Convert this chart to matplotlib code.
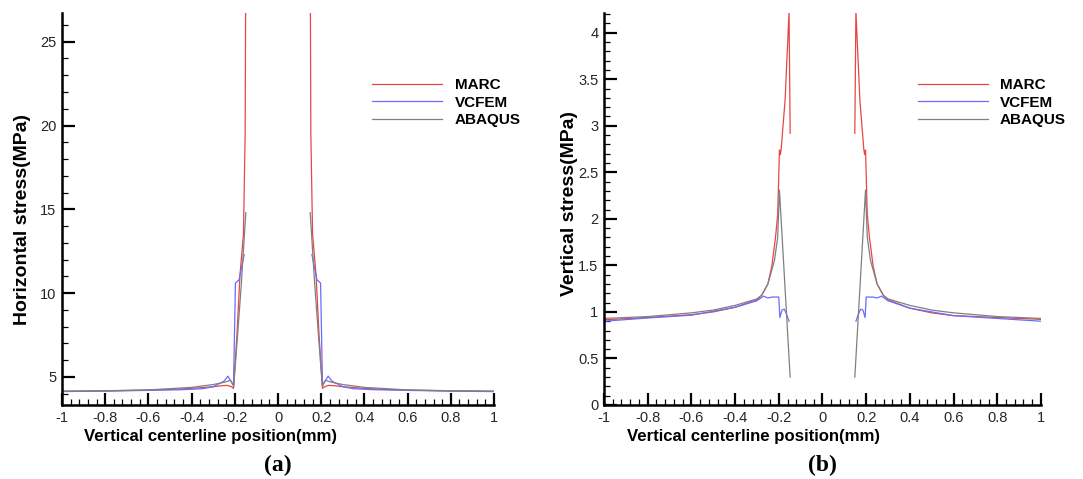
# Esfuerzos a lo largo de la linea central vertical: MARC, VCFEM y ABAQUS

import numpy as np
import matplotlib.pyplot as plt
from matplotlib.ticker import MultipleLocator

plt.rcParams['font.family'] = ['Liberation Sans', 'DejaVu Sans']

# (a) esfuerzo horizontal, mitad izquierda y mitad derecha
h_marc_xl = [-1, -0.8, -0.6, -0.5, -0.4, -0.3, -0.26, -0.235, -0.215, -0.206, -0.19, -0.176, -0.16, -0.152, -0.149]
h_marc_yl = [4.15, 4.17, 4.22, 4.26, 4.32, 4.42, 4.48, 4.5, 4.42, 4.32, 7.5, 11.1, 13.5, 19.5, 30.0]
h_marc_xr = [0.149, 0.152, 0.16, 0.176, 0.19, 0.206, 0.215, 0.235, 0.26, 0.3, 0.4, 0.5, 0.6, 0.8, 1]
h_marc_yr = [30.0, 19.5, 13.5, 11.1, 7.5, 4.32, 4.42, 4.5, 4.48, 4.42, 4.32, 4.26, 4.22, 4.17, 4.15]

h_vcfem_xl = [-1, -0.8, -0.6, -0.45, -0.35, -0.3, -0.25, -0.232, -0.215, -0.206, -0.197, -0.18, -0.157]
h_vcfem_yl = [4.13, 4.16, 4.2, 4.24, 4.3, 4.42, 4.75, 5.05, 4.7, 4.5, 10.6, 10.8, 12.3]
h_vcfem_xr = [0.157, 0.18, 0.197, 0.206, 0.215, 0.232, 0.25, 0.3, 0.35, 0.45, 0.6, 0.8, 1]
h_vcfem_yr = [12.3, 10.8, 10.6, 4.5, 4.7, 5.05, 4.75, 4.42, 4.3, 4.24, 4.2, 4.16, 4.13]

h_abaqus_xl = [-1, -0.8, -0.6, -0.4, -0.3, -0.25, -0.22, -0.205, -0.19, -0.17, -0.149]
h_abaqus_yl = [4.15, 4.18, 4.23, 4.38, 4.55, 4.68, 4.8, 4.45, 7.0, 10.5, 14.8]
h_abaqus_xr = [0.149, 0.17, 0.19, 0.205, 0.22, 0.25, 0.3, 0.4, 0.6, 0.8, 1]
h_abaqus_yr = [14.8, 10.5, 7.0, 4.45, 4.8, 4.68, 4.55, 4.38, 4.23, 4.18, 4.15]

# (b) esfuerzo vertical
v_marc_xl = [-1, -0.8, -0.6, -0.5, -0.4, -0.3, -0.278, -0.25, -0.232, -0.215, -0.205, -0.197, -0.193, -0.189, -0.171, -0.153, -0.148]
v_marc_yl = [0.915, 0.94, 0.97, 1.0, 1.05, 1.13, 1.18, 1.3, 1.49, 1.8, 2.05, 2.74, 2.69, 2.75, 3.28, 4.23, 2.92]
v_marc_xr = [0.148, 0.153, 0.171, 0.189, 0.193, 0.197, 0.205, 0.215, 0.232, 0.25, 0.278, 0.3, 0.4, 0.5, 0.6, 0.8, 1]
v_marc_yr = [2.92, 4.23, 3.28, 2.75, 2.69, 2.74, 2.05, 1.8, 1.49, 1.3, 1.18, 1.13, 1.04, 0.99, 0.96, 0.94, 0.92]

v_vcfem_xl = [-1, -0.8, -0.6, -0.4, -0.3, -0.27, -0.25, -0.23, -0.2, -0.195, -0.185, -0.175, -0.165, -0.153]
v_vcfem_yl = [0.9, 0.935, 0.965, 1.05, 1.12, 1.17, 1.15, 1.16, 1.16, 0.94, 1.02, 1.03, 0.98, 0.9]
v_vcfem_xr = [0.153, 0.165, 0.175, 0.185, 0.195, 0.2, 0.23, 0.25, 0.27, 0.3, 0.4, 0.6, 0.8, 1]
v_vcfem_yr = [0.9, 0.98, 1.03, 1.02, 0.94, 1.16, 1.16, 1.15, 1.17, 1.12, 1.04, 0.96, 0.93, 0.9]

v_abaqus_xl = [-1, -0.8, -0.6, -0.5, -0.4, -0.3, -0.278, -0.25, -0.22, -0.205, -0.197, -0.148]
v_abaqus_yl = [0.93, 0.95, 0.99, 1.02, 1.07, 1.14, 1.18, 1.3, 1.55, 1.8, 2.31, 0.3]
v_abaqus_xr = [0.148, 0.197, 0.205, 0.22, 0.25, 0.278, 0.3, 0.4, 0.5, 0.6, 0.8, 1]
v_abaqus_yr = [0.3, 2.31, 1.8, 1.55, 1.3, 1.18, 1.14, 1.07, 1.02, 0.99, 0.95, 0.93]

rojo = '#e84545'
azul = '#6b6bff'
gris = '#808080'

fig = plt.figure(figsize=(10.83, 4.79), dpi=100)
ax1 = fig.add_axes([0.0572, 0.1545, 0.399, 0.818])
ax2 = fig.add_axes([0.5577, 0.1545, 0.4035, 0.818])


def dibuja(ax, series):
    for xl, yl, xr, yr, color, nombre in series:
        ax.plot(xl, yl, color=color, lw=0.9, label=nombre)
        ax.plot(xr, yr, color=color, lw=0.9)


dibuja(ax1, [
    (h_marc_xl, h_marc_yl, h_marc_xr, h_marc_yr, rojo, 'MARC'),
    (h_vcfem_xl, h_vcfem_yl, h_vcfem_xr, h_vcfem_yr, azul, 'VCFEM'),
    (h_abaqus_xl, h_abaqus_yl, h_abaqus_xr, h_abaqus_yr, gris, 'ABAQUS'),
])
dibuja(ax2, [
    (v_marc_xl, v_marc_yl, v_marc_xr, v_marc_yr, rojo, 'MARC'),
    (v_vcfem_xl, v_vcfem_yl, v_vcfem_xr, v_vcfem_yr, azul, 'VCFEM'),
    (v_abaqus_xl, v_abaqus_yl, v_abaqus_xr, v_abaqus_yr, gris, 'ABAQUS'),
])

ax1.set_ylim(3.33, 26.7)
ax1.yaxis.set_major_locator(MultipleLocator(5))
ax1.yaxis.set_minor_locator(MultipleLocator(1))
ax2.set_ylim(0, 4.21)
ax2.yaxis.set_major_locator(MultipleLocator(0.5))
ax2.yaxis.set_minor_locator(MultipleLocator(0.1))
ax2.yaxis.set_major_formatter(plt.FuncFormatter(lambda v, p: '%g' % v))

paneles = [(ax1, 'Horizontal stress(MPa)', '(a)', -0.092, 0.474),
           (ax2, 'Vertical stress(MPa)', '(b)', -0.08, 0.513)]
for ax, ylab, letra, ylx, yly in paneles:
    ax.set_xlim(-1, 1)
    ax.xaxis.set_major_locator(MultipleLocator(0.2))
    ax.xaxis.set_minor_locator(MultipleLocator(0.04))
    ax.xaxis.set_major_formatter(plt.FuncFormatter(lambda v, p: '%g' % round(v, 2)))
    ax.spines['top'].set_visible(False)
    ax.spines['right'].set_visible(False)
    ax.spines['left'].set_linewidth(1.8)
    ax.spines['bottom'].set_linewidth(1.8)
    ax.tick_params(which='major', direction='in', length=9, width=1.6, labelsize=10.5,
                   pad=4, labelcolor='#262626')
    ax.tick_params(which='minor', direction='in', length=4.5, width=0.9)
    ax.set_xlabel('Vertical centerline position(mm)', fontsize=12.1, fontweight='bold')
    ax.xaxis.set_label_coords(0.343, -0.06)
    ax.set_ylabel(ylab, fontsize=14, fontweight='bold', va='center')
    ax.yaxis.set_label_coords(ylx, yly)
    ax.legend(loc='upper left', bbox_to_anchor=(0.686, 0.87), frameon=False,
              handlelength=4.6, handletextpad=0.8, labelspacing=0.25,
              prop={'weight': 'bold', 'size': 11})
    ax.text(0.5, -0.155, letra, transform=ax.transAxes, ha='center', va='center',
            fontsize=17, fontweight='bold', family='Liberation Serif')

plt.savefig('out.png', dpi=100)
